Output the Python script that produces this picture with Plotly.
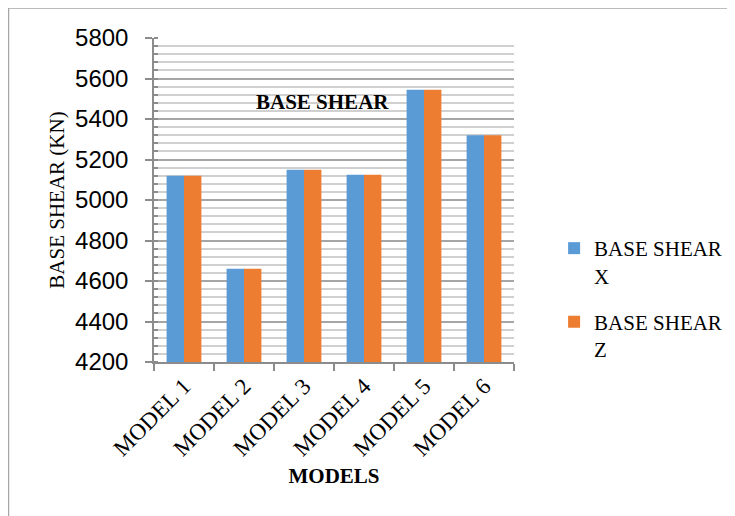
import plotly.graph_objects as go

models = ["MODEL 1", "MODEL 2", "MODEL 3", "MODEL 4", "MODEL 5", "MODEL 6"]
base_shear_x = [5120, 4660, 5150, 5125, 5545, 5320]
base_shear_z = [5120, 4660, 5150, 5125, 5545, 5320]
y_ticks = [4200, 4400, 4600, 4800, 5000, 5200, 5400, 5600, 5800]

serif = "Liberation Serif, Times New Roman, serif"
sans = "Liberation Sans, Arial, sans-serif"

fig = go.Figure()
fig.add_trace(go.Bar(x=models, y=base_shear_x, name="BASE SHEAR<br>X",
                     marker=dict(color="#5B9BD5", line=dict(width=0)),
                     legendgroup="x"))
fig.add_trace(go.Bar(x=models, y=base_shear_z, name="BASE SHEAR<br>Z",
                     marker=dict(color="#ED7D31", line=dict(width=0)),
                     legendgroup="z"))

fig.update_layout(
    width=735, height=516,
    margin=dict(l=146, r=229, t=30, b=162, autoexpand=False),
    paper_bgcolor="white", plot_bgcolor="white",
    barmode="group", bargap=0.42, bargroupgap=0,
    showlegend=True,
    legend=dict(xref="container", yref="container",
                x=0.743, y=1 - 220 / 516, xanchor="left", yanchor="top",
                font=dict(family=serif, size=21, color="black"),
                tracegroupgap=16, itemwidth=30, valign="top",
                bgcolor="rgba(0,0,0,0)"),
    annotations=[dict(text="<b>BASE SHEAR</b>", x=0.469, y=0.846,
                      xref="paper", yref="paper", showarrow=False,
                      font=dict(family=serif, size=21, color="black"))],
    shapes=[
        dict(type="line", xref="paper", yref="paper", x0=-0.4042, x1=1.7,
             y0=1.0926, y1=1.0926, line=dict(color="#a6a6a6", width=1.5)),
        dict(type="line", xref="paper", yref="paper", x0=-0.4042, x1=-0.4042,
             y0=1.0926, y1=-0.6, line=dict(color="#a6a6a6", width=1.5)),
    ],
)

fig.update_yaxes(
    range=[4200, 5800], tickvals=y_ticks, automargin=False,
    tickfont=dict(family=sans, size=24, color="black"),
    showline=True, linecolor="#8c8c8c", linewidth=1.5,
    ticks="outside", ticklen=7, tickcolor="#8c8c8c", tickwidth=1.5,
    ticklabelstandoff=12,
    showgrid=True, gridcolor="#a6a6a6", gridwidth=1.5,
    minor=dict(dtick=40, showgrid=True, gridcolor="#d0d0d0", gridwidth=1.5,
               ticks="inside", ticklen=4, tickcolor="#8c8c8c"),
    zeroline=False,
    title=dict(text="BASE SHEAR (KN)", standoff=5,
               font=dict(family=serif, size=21, color="black")),
)

fig.update_xaxes(
    tickangle=-45, automargin=False,
    tickfont=dict(family=serif, size=23, color="black"),
    showline=True, linecolor="#8c8c8c", linewidth=1.5,
    ticks="outside", tickson="boundaries", ticklen=7, tickcolor="#8c8c8c", tickwidth=1.5,
    showgrid=False,
    title=dict(text="<b>MODELS</b>", standoff=8,
               font=dict(family=serif, size=21, color="black")),
)

fig.write_html("out.html")
